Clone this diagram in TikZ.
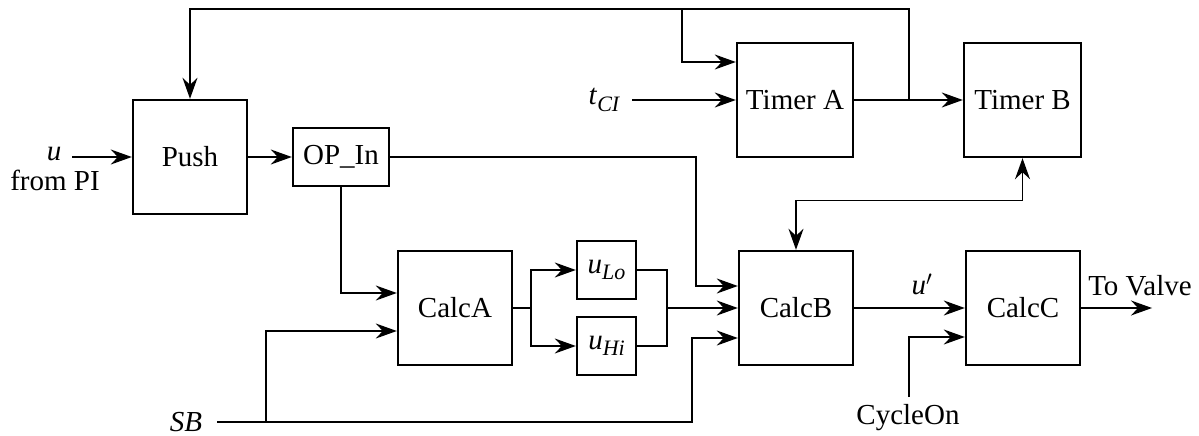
\documentclass[tikz,border=0pt]{standalone}
\usepackage{fontspec}
\setmainfont{Liberation Serif}
\newfontfamily\tnr{Liberation Serif}
\usetikzlibrary{arrows.meta}
\newcommand\mysub[1]{\raisebox{-0.22em}{\fontsize{22}{22}\selectfont\itshape #1}}
\begin{document}
\begin{tikzpicture}[x=1pt,y=-1pt,
  every node/.style={font=\tnr\fontsize{29}{33}\selectfont, inner sep=0pt},
  blk/.style={draw, line width=2.4pt, minimum width=114pt, minimum height=114pt},
  smallblk/.style={draw, line width=2.4pt, minimum width=59pt, minimum height=58pt},
  tip/.style={},
  arr/.style={line width=1.4pt, -{Stealth[length=21pt,width=15pt,inset=7pt]}},
  darr/.style={line width=1.4pt, {Stealth[length=21pt,width=15pt,inset=7pt]}-{Stealth[length=21pt,width=15pt,inset=7pt]}},
  ln/.style={line width=1.4pt}]
\useasboundingbox (0,0) rectangle (1199,436);
% blocks
\node[blk] (push) at (190,157) {Push};
\node[draw, line width=2.4pt, minimum width=96pt, minimum height=58pt] (op) at (341,157) {OP\_In};
\node[blk, minimum width=116pt] (ta) at (795,100) {Timer A};
\node[blk, minimum width=117pt] (tb) at (1022.5,100) {Timer B};
\node[blk] (ca) at (455,308) {CalcA};
\node[blk] (cb) at (796,308) {CalcB};
\node[blk] (cc) at (1023,308) {CalcC};
\node[smallblk] (ulo) at (606.5,270) {\textit{u}\mysub{Lo}};
\node[smallblk] (uhi) at (606.5,346) {\textit{u}\mysub{Hi}};
% labels
\node[anchor=base] (ul) at (54,160) {\textit{u}};
\node[anchor=base] (fpi) at (55,190) {from PI};
\node (tci) at (604,100) {\textit{t}\mysub{CI}};
\node (sb) at (186,422) {\textit{SB}};
\node (cyc) at (908,418) {CycleOn};
\node (up) at (922,284) {\textit{u}$'$};
\node (tv) at (1140,286) {To Valve};
% coordinates
\coordinate (uin) at (72,157);
\coordinate (tcin) at (632,100);
\coordinate (sbs) at (217,422);
\coordinate (sbj) at (266,422);
\coordinate (split) at (531,308);
\coordinate (merge) at (667,308);
\coordinate (cyin) at (909,397);
\coordinate (tvout) at (1152,308);
\coordinate (tj) at (909,100);
\coordinate (topr) at (909,9);
\coordinate (topb) at (682,9);
% connectors
\draw[arr] (uin) -- (push.west);
\draw[arr] (push.east) -- (op.west);
\draw[arr] (op.east) -| ([xshift=-42pt,yshift=22pt]cb.west) -- ([yshift=22pt]cb.west);
\draw[arr] (op.south) |- ([yshift=15pt]ca.west);
\draw[arr] (sbs) -| ([xshift=-46pt,yshift=-30pt]cb.west) -- ([yshift=-30pt]cb.west);
\draw[arr] (sbj) |- ([yshift=-23pt]ca.west);
\draw[ln] (ca.east) -- (split);
\draw[arr] (split) |- (ulo.west);
\draw[arr] (split) |- (uhi.west);
\draw[ln] (ulo.east) -| (merge);
\draw[ln] (uhi.east) -| (merge);
\draw[arr] (merge) -- (cb.west);
\draw[arr] (cb.east) -- (cc.west);
\draw[arr] (cyin) |- ([yshift=-29pt]cc.west);
\draw[arr] (cc.east) -- (tvout);
\draw[arr] (tcin) -- (ta.west);
\draw[arr] (ta.east) -- (tb.west);
\draw[arr] (tj) -- (topr) -| (push.north);
\draw[arr] (topb) |- ([yshift=38pt]ta.west);
\draw[darr] (cb.north) |- ([yshift=-42pt]tb.south) -- (tb.south);
\end{tikzpicture}
\end{document}
